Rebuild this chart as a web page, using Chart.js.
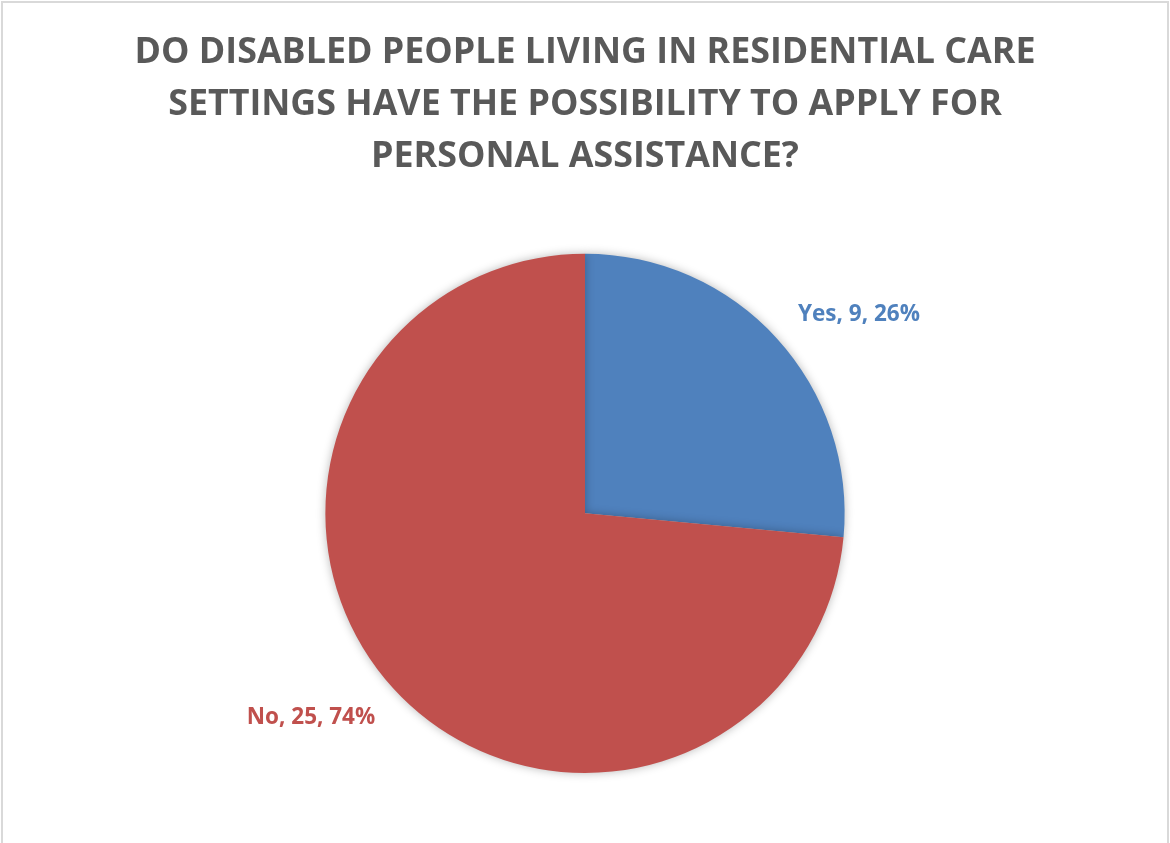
<!DOCTYPE html>
<html>
<head>
<meta charset="utf-8">
<script src="https://cdn.jsdelivr.net/npm/chart.js@4.4.1/dist/chart.umd.min.js"></script>
<style>
  html, body { margin: 0; padding: 0; background: #fff; }
  #wrap { width: 1170px; height: 843px; position: relative; }
</style>
</head>
<body>
<div id="wrap"><canvas id="pieChart" width="1170" height="843"></canvas></div>
<script>
// chart data
var categories = ['Yes', 'No'];
var counts = [9, 25];
var percentLabels = ['26%', '74%'];
var sliceColors = ['#4F81BD', '#C0504D'];
var titleLines = [
  'DO DISABLED PEOPLE LIVING IN RESIDENTIAL CARE',
  'SETTINGS HAVE THE POSSIBILITY TO APPLY FOR',
  'PERSONAL ASSISTANCE?'
];

// light grey frame round the chart
var framePlugin = {
  id: 'frame',
  beforeDraw: function(chart) {
    var ctx = chart.ctx;
    ctx.save();
    ctx.fillStyle = '#fff';
    ctx.fillRect(0, 0, chart.width, chart.height);
    ctx.strokeStyle = '#d9d9d9';
    ctx.lineWidth = 2;
    ctx.strokeRect(2, 2, chart.width - 4, chart.height + 10);
    ctx.restore();
  }
};

// soft shadow under the pie
var shadowPlugin = {
  id: 'pieShadow',
  beforeDatasetsDraw: function(chart) {
    var ctx = chart.ctx;
    ctx.save();
    ctx.shadowColor = 'rgba(0,0,0,0.28)';
    ctx.shadowBlur = 10;
    ctx.shadowOffsetX = 0;
    ctx.shadowOffsetY = 0;
  },
  afterDatasetsDraw: function(chart) {
    chart.ctx.restore();
  }
};

// "Yes, 9, 26%" style labels outside each slice
var outsideLabels = {
  id: 'outsideLabels',
  afterDatasetsDraw: function(chart) {
    var ctx = chart.ctx;
    var meta = chart.getDatasetMeta(0);
    ctx.save();
    ctx.font = 'bold 22.5px "Open Sans"';
    ctx.textAlign = 'center';
    ctx.textBaseline = 'middle';
    meta.data.forEach(function(arc, i) {
      var mid = (arc.startAngle + arc.endAngle) / 2 + 0.105;
      var dist = arc.outerRadius * 1.31;
      var x = arc.x + Math.cos(mid) * dist;
      var y = arc.y + Math.sin(mid) * dist + 3;
      ctx.fillStyle = sliceColors[i];
      ctx.fillText(categories[i] + ', ' + counts[i] + ', ' + percentLabels[i], x, y);
    });
    ctx.restore();
  }
};

var pieCtx = document.getElementById('pieChart').getContext('2d');
var pieChart = new Chart(pieCtx, {
  type: 'pie',
  data: {
    labels: categories,
    datasets: [{
      data: counts,
      backgroundColor: sliceColors,
      borderWidth: 0
    }]
  },
  options: {
    responsive: false,
    animation: false,
    layout: {
      padding: { top: 0, bottom: 70, left: 0, right: 0 }
    },
    plugins: {
      legend: { display: false },
      tooltip: { enabled: false },
      title: {
        display: true,
        text: titleLines,
        color: '#595959',
        font: { family: '"Open Sans"', size: 35.8, weight: 'bold', lineHeight: 1.45 },
        padding: { top: 27, bottom: 71 }
      }
    }
  },
  plugins: [framePlugin, shadowPlugin, outsideLabels]
});
</script>
</body>
</html>
